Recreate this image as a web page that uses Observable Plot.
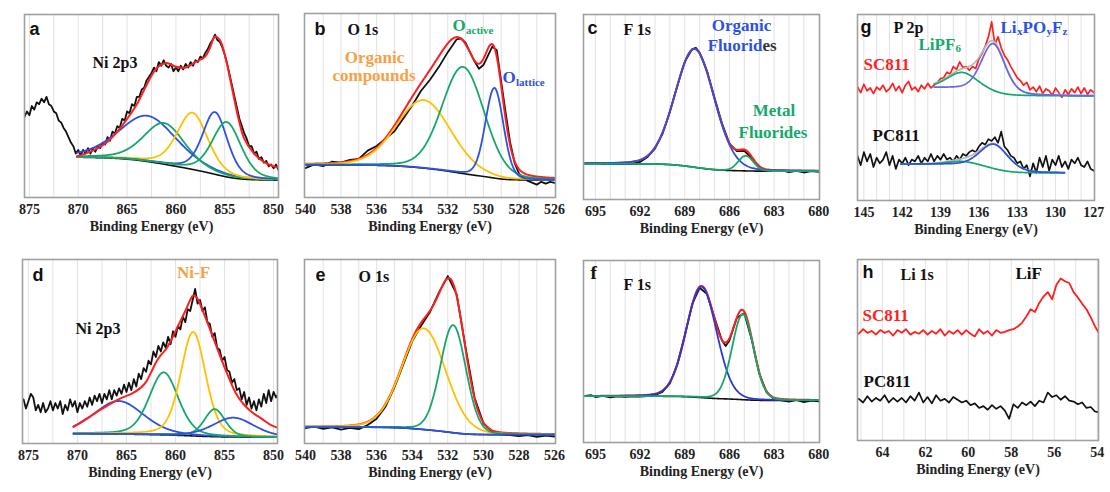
<!DOCTYPE html>
<html><head><meta charset="utf-8">
<script src="https://cdn.jsdelivr.net/npm/d3@7"></script>
<script src="https://cdn.jsdelivr.net/npm/@observablehq/plot@0.6"></script>
<style>
body{margin:0;background:#fff;}
#fig{position:relative;width:1110px;height:492px;overflow:hidden;background:#fff;}
#fig svg{position:absolute;overflow:visible;}
</style></head><body><div id="fig"></div>
<script>
// ================= DATA =================
// (a) Ni 2p3, top row: measured counts, sampled every 0.25 eV from 875.5 eV
const aStart = 875.5, aStep = 0.25;
const aCounts = [
  44, 47, 45, 50,  48, 52, 51, 54,  52, 55, 51, 50,  47, 46, 42, 41,
  38, 36, 33, 30,  28, 24, 26, 23,  26, 24, 27, 24,  27, 25, 28, 27,
  30, 29, 33, 31,  36, 35, 39, 38,  43, 42, 47, 46,  51, 50, 55, 55,
  59, 60, 64, 66,  68, 71, 69, 74,  72, 75, 72, 71,  73, 69, 71, 69,
  72, 70, 73, 71,  74, 72, 75, 74,  77, 76, 79, 81,  84, 86, 89, 86,
  85, 82, 78, 73,  67, 61, 55, 49,  43, 39, 35, 32,  28, 28, 24, 25,
  21, 22, 19, 20,  17, 18, 16, 18,  15
];
const aFit = [[870.1,22.5],[869,24.5],[868,27],[867,30.5],[866,36],[865,43],[864,51],[863,61.5],[862,70.5],[861,73.5],[860,71.5],[859,71],[858,74],[857,77],[856.5,82],[856,88],[855.5,86],[855,78],[854.5,66],[854,53],[853.5,41],[853,32],[852,24],[851,19.5],[850,17],[849.6,16.5]];
const aPeakCenter = [862.9, 861.2, 858.3, 856.0, 854.8];
const aPeakHeight = [25, 22.5, 31, 34, 30];
const aPeakFwhm   = [7, 5, 3.7, 3.0, 3.5];
const aBackground = [22, 9.5];           // high-BE end, low-BE end
const aTicks = [875, 870, 865, 860, 855, 850];

// (d) Ni 2p3, bottom row
const dStart = 875.5, dStep = 0.25;
const dCounts = [
  24, 19, 23, 27,  25, 18, 21, 17,  22, 17, 19, 23,  18, 22, 19, 23,
  16, 21, 18, 24,  20, 23, 17, 22,  19, 23, 20, 25,  21, 26, 23, 27,
  22, 27, 24, 29,  24, 29, 26, 30,  27, 32, 28, 33,  29, 35, 31, 38,
  35, 41, 39, 45,  43, 50, 47, 53,  50, 55, 52, 58,  54, 61, 58, 64,
  62, 69, 66, 73,  72, 78, 84, 76,  78, 72, 74, 66,  65, 58, 60, 52,
  51, 45, 47, 40,  39, 33, 35, 29,  30, 24, 28, 21,  25, 19, 23, 18,
  24, 20, 27, 22,  29, 23, 28, 25,  27
];
const dFit = [[870.4,9],[869.5,12],[868.5,15.5],[867.5,18.8],[866.5,22],[865.5,24.8],[864.5,27],[863.5,30.5],[863,33.5],[862.5,38.5],[862,44],[861.5,48],[861,51],[860.5,55.5],[860,61],[859.5,66.5],[859,72],[858.5,78],[858.2,80.4],[857.8,79],[857.3,73.2],[856.5,62.3],[855.6,49.6],[854.8,38.8],[853.9,27.9],[853.1,21.6],[852.2,17],[851.2,13.4],[850.2,9.8],[849.6,8.6]];
const dPeakCenter = [865.8, 861.2, 858.2, 856.0, 854.1];
const dPeakHeight = [18, 34, 56.5, 15, 10.5];
const dPeakFwhm   = [6, 3.5, 3.0, 2.5, 5];
const dBackground = [5.3, 3.4];

// (b) O 1s, top row
const bMeasured = [[540,16],[539.5,18],[539,17],[538.5,19.5],[538,19],[537.5,20.5],[537,21],[536.5,25.5],[536,28],[535.5,32],[535,36],[534.5,43],[534,50],[533.5,58],[533,64],[532.5,71],[532,79],[531.5,86],[531.25,86.5],[531,84],[530.75,79],[530.5,74],[530.25,70],[530,72],[529.75,77],[529.5,82],[529.25,80],[529,63],[528.75,46],[528.5,30],[528.25,19],[528,13],[527.5,9],[527,7],[526.75,8.5],[526.5,7.5],[526.25,8.5],[526,8]];
const bPeakCenter = [533.35, 531.14, 529.38];
const bPeakHeight = [37, 58, 49];
const bPeakFwhm   = [3.6, 2.8, 1.2];
const bBackground = [17.7, 9.5];
const oTicks = [540, 538, 536, 534, 532, 530, 528, 526];

// (e) O 1s, bottom row
const eMeasured = [[540,8.3],[539.5,9.2],[539,8],[538.5,8.8],[538,7.6],[537.5,8.5],[537,7.8],[536.5,10],[536,13.5],[535.5,20],[535,30.5],[534.5,43],[534,55.5],[533.5,64],[533,71.5],[532.5,82],[532,91],[531.5,81],[531,52],[530.5,25],[530,11],[529.5,6.5],[529,5],[528.5,4.5],[528,4],[527.5,4.6],[527,3.6],[526.5,4.3],[526,3.8]];
const ePeakCenter = [533.35, 531.7, 531.0];
const ePeakHeight = [55, 58.5, 0];
const ePeakFwhm   = [2.9, 1.7, 1.0];
const eBackground = [8.9, 4.8];

// (c) F 1s, top row
const cMeasured = [[695.8,19.5],[695,19.8],[694.5,19.2],[694,19.4],[693.5,19.1],[693,19.3],[692.5,19.4],[692,20.3],[691.5,23],[691,27.5],[690.5,35.3],[690,47.4],[689.5,61.3],[689,74.4],[688.5,81.3],[688.25,82],[688,79.3],[687.5,69.3],[687,55],[686.5,41.2],[686,30.2],[685.5,26.2],[685,26.3],[684.5,22.4],[684,17.3],[683.5,15.8],[683,15.5],[682.5,15.7],[682,14.8],[681.5,15.5],[681,14.6],[680.5,15.3],[680,14.9]];
const cPeakCenter = [688.33, 684.9];
const cPeakHeight = [64, 8.2];
const cPeakFwhm   = [3.1, 1.2];
const cBackground = [19.3, 15.3];
const fTicks = [695, 692, 689, 686, 683, 680];

// (f) F 1s, bottom row
const fMeasured = [[695.8,25.5],[695.3,26],[695,25],[694.5,25.6],[694,24.8],[693.5,25.3],[693,25.1],[692.5,25.4],[692,25.2],[691.5,25.5],[691,26],[690.5,27.8],[690,32.5],[689.5,43],[689,59],[688.5,76],[688,85],[687.5,81.5],[687,68.5],[686.5,56],[686.25,53],[686,56],[685.5,68.5],[685,71],[684.5,56.5],[684,38],[683.5,27.5],[683,23.8],[682.5,23.1],[682,22.5],[681.5,23.4],[681,22.2],[680.5,23],[680,22.6]];
const fPeakCenter = [687.88, 685.1];
const fPeakHeight = [61, 47];
const fPeakFwhm   = [2.4, 1.7];
const fBackground = [25.4, 23.1];

// (g) P 2p: SC811 (upper) and PC811 (lower), every 0.25 eV from 145.5 eV
const gStart = 145.5, gStep = 0.25;
const gSC811 = [
  61, 58, 62.5, 59,  60.5, 57.5, 61, 59.5,  62, 58.5, 60, 63,  59, 61.5, 58, 62,
  64, 59.5, 61, 58.5,  62, 60, 63, 60.5,  62, 63.5, 65.5, 66,  69, 68, 72, 70.5,
  74.5, 71.5, 72, 70,  72, 71, 76, 79,  83, 88, 96, 84,  88, 82, 78, 75.5,
  72, 69, 66, 64.5,  62, 63.5, 59.5, 61,  58.5, 61.5, 57.5, 60,  59, 56.5, 60.5, 58,
  55.5, 59.5, 57, 60,  58, 61, 57.5, 60.5,  57, 59.5, 58
];
const gPC811 = [
  24, 19, 26, 21,  25, 18, 23, 20,  22, 26, 19, 24,  17, 22, 20, 23,
  19, 22, 21, 24,  20, 23, 21, 25,  21, 24, 22, 25,  22, 23, 21, 24,
  22, 25, 24, 26,  27, 26, 29, 31,  30, 33, 32, 34,  31, 37, 29, 27,
  24, 23, 20, 21,  17, 19, 13, 20,  15, 23, 18, 24,  16, 22, 19, 24,
  18, 21, 17, 22,  20, 23, 19, 18,  21, 17, 16
];
const gSCPeakCenter = [137.3, 134.88];
const gSCPeakHeight = [9, 26.5];
const gSCPeakFwhm   = [2.8, 2.2];
const gSCBackground = [60.5, 56.2];
const gPCPeakCenter = [137.3, 134.8];
const gPCPeakHeight = [2, 13.4];
const gPCPeakFwhm   = [2.8, 2.6];
const gPCBackground = [19.5, 14.8];
const gTicks = [145, 142, 139, 136, 133, 130, 127];

// (h) Li 1s: SC811 and PC811, every 0.2 eV from 65.1 eV
const hStart = 65.1, hStep = 0.2;
const hSC811 = [
  59, 61.5, 59.5, 60.5, 58.5,  61, 59.5, 60.5, 58, 61,  59.5, 61.5, 58.5, 60, 59,
  61, 58.5, 60.5, 59, 61.5,  58, 60.5, 59, 61, 58.5,  61, 59, 57.5, 61.5, 59,
  60.5, 58, 61, 59.5, 60,  61, 61.5, 63, 65, 68.5,  72.5, 71, 76, 79.5, 82,
  78, 86, 89.5, 88, 87,  82, 79, 75.5, 72.5, 68,  63, 59
];
const hPC811 = [
  23, 21, 24.5, 21.5, 23.5,  22, 25, 21, 23.5, 21.5,  23.5, 21, 24.5, 22, 26.5,
  21, 24, 20.5, 25, 22,  23, 21, 24, 22.5, 21,  22, 19.5, 20.5, 18, 19,
  17, 19.5, 17.5, 19, 16.5,  12, 20, 18, 21, 19.5,  21.5, 19, 22, 21, 26.5,
  24, 25, 22.5, 24.5, 22,  21.5, 20, 21, 18, 18.5,  16, 15.5
];
const hTicks = [64, 62, 60, 58, 56, 54];

// ================= STYLE =================
const RED = "#ff1f1f", BLUE = "#2d52e2", GREEN = "#16a86b", YELLOW = "#ffc000", INK = "#111";
const ORANGE = "#f7a146", GBLUE = "#6767e6", GRAY = "#b8b8b8";
const SERIF = "'Liberation Serif','Times New Roman',serif";
const SANS = "'Liberation Sans',Arial,sans-serif";
const fig = document.getElementById("fig");

// ================= HELPERS =================
function series(start, step, vals) { return vals.map((v, i) => ({x: start - i * step, y: v})); }
function pv(x, c, h, w, eta) {
  const t = (x - c) / w;
  return h * ((1 - eta) * Math.exp(-4 * Math.LN2 * t * t) + eta / (1 + 4 * t * t));
}
// peak fit model with a Shirley background between the two ends of the fit range
function fitModel(hi, lo, bgEnds, centers, heights, widths, eta) {
  const n = Math.round((hi - lo) / 0.05);
  const xs = d3.range(n + 1).map(i => lo + i * (hi - lo) / n);
  const comps = centers.map((c, k) => xs.map(x => pv(x, c, heights[k], widths[k], eta)));
  const sum = xs.map((x, i) => d3.sum(comps, cc => cc[i]));
  const cum = [0];
  for (let i = 1; i <= n; i++) cum[i] = cum[i - 1] + (sum[i] + sum[i - 1]) / 2;
  const tot = cum[n] || 1;
  const bg = xs.map((x, i) => bgEnds[1] + (bgEnds[0] - bgEnds[1]) * cum[i] / tot);
  return {xs, comps, sum, bg};
}
function compLines(m, colors, sw = 1.8) {
  return m.comps.map((c, k) => Plot.line(m.xs, {x: d => d, y: (d, i) => m.bg[i] + c[i], stroke: colors[k], strokeWidth: sw, clip: true}));
}
function envLine(m, color, sw = 2) {
  return Plot.line(m.xs, {x: d => d, y: (d, i) => m.bg[i] + m.sum[i], stroke: color, strokeWidth: sw, clip: true});
}
function bgLine(m, color = INK, sw = 1.6) {
  return Plot.line(m.xs, {x: d => d, y: (d, i) => m.bg[i], stroke: color, strokeWidth: sw, clip: true});
}
function gridVals(lo, hi, step) {
  const out = []; for (let v = Math.ceil(lo / step) * step; v <= hi + 1e-9; v += step) out.push(+v.toFixed(2)); return out;
}

function panel(cfg) {
  const M = 2, MB = 46;
  const {left, top, w, h, domain, ticks, grid, marks, labels} = cfg;
  const labelMarks = labels.map(L => Plot.text([L.t], {
    text: d => d, frameAnchor: "top-left", dx: L.x - left, dy: L.y - top,
    textAnchor: L.anchor || "start", lineAnchor: "middle",
    fontSize: L.size || 17, fontWeight: "bold", fontFamily: L.family || SERIF, fill: L.fill || INK
  }));
  const svg = Plot.plot({
    width: w + 2 * M, height: h + M + MB,
    marginLeft: M, marginRight: M, marginTop: M, marginBottom: MB,
    x: {domain, axis: null}, y: {domain: [0, 100], axis: null},
    style: {fontFamily: SERIF, background: "transparent", overflow: "visible"},
    marks: [
      Plot.ruleX(grid, {x: d => d, stroke: "#e2e2e2", strokeWidth: 1}),
      ...marks,
      Plot.frame({stroke: "#a0a0a0", strokeWidth: 1.6}),
      Plot.text(ticks, {x: d => d, text: d => String(d), frameAnchor: "bottom", dy: 16, fontSize: 14, fontWeight: "bold", fill: "#222"}),
      Plot.text(["Binding Energy (eV)"], {text: d => d, frameAnchor: "bottom", dy: 33, fontSize: 14, fontWeight: "bold", fill: "#222"}),
      ...labelMarks
    ]
  });
  svg.style.left = (left - M) + "px";
  svg.style.top = (top - M) + "px";
  fig.appendChild(svg);
}

// ================= PANELS =================
// (a)
{
  const m = fitModel(870.1, 849.6, aBackground, aPeakCenter, aPeakHeight, aPeakFwhm, 0.35);
  panel({left: 24, top: 14, w: 254, h: 183, domain: [875.5, 849.5], ticks: aTicks, grid: gridVals(850, 875, 2.5),
    marks: [
      Plot.line(series(aStart, aStep, aCounts), {x: "x", y: "y", stroke: INK, strokeWidth: 1.8, clip: true}),
      bgLine(m),
      ...compLines(m, [BLUE, GREEN, YELLOW, BLUE, GREEN]),
      Plot.line(aFit, {x: d => d[0], y: d => d[1], curve: "catmull-rom", stroke: RED, strokeWidth: 2, clip: true})
    ],
    labels: [{t: "a", x: 29, y: 29, family: SANS, size: 18}, {t: "Ni 2p3", x: 92, y: 62, size: 16}]
  });
}
// (b)
{
  const m = fitModel(540.05, 525.95, bBackground, bPeakCenter, bPeakHeight, bPeakFwhm, 0.15);
  panel({left: 304, top: 13, w: 251, h: 184, domain: [540.05, 525.95], ticks: oTicks, grid: gridVals(527, 539, 1),
    marks: [
      Plot.line(bMeasured, {x: d => d[0], y: d => d[1], stroke: INK, strokeWidth: 1.8, clip: true}),
      envLine(m, RED), bgLine(m),
      ...compLines(m, [YELLOW, GREEN, BLUE])
    ],
    labels: [
      {t: "b", x: 314, y: 29, family: SANS, size: 18}, {t: "O 1s", x: 347, y: 29, size: 16},
      {t: "Organic", x: 374, y: 57, fill: ORANGE, anchor: "middle"}, {t: "compounds", x: 373.5, y: 75, fill: ORANGE, anchor: "middle"},
      {t: "O", x: 452, y: 25, fill: GREEN}, {t: "active", x: 465.5, y: 30, size: 11, fill: GREEN},
      {t: "O", x: 502, y: 77, fill: BLUE}, {t: "lattice", x: 515.5, y: 82, size: 11, fill: BLUE}
    ]
  });
}
// (c)
{
  const m = fitModel(695.8, 679.95, cBackground, cPeakCenter, cPeakHeight, cPeakFwhm, 0.1);
  panel({left: 583, top: 14, w: 236, h: 185, domain: [695.8, 679.95], ticks: fTicks, grid: gridVals(681, 695, 1),
    marks: [
      Plot.line(cMeasured, {x: d => d[0], y: d => d[1], stroke: INK, strokeWidth: 1.8, clip: true}),
      envLine(m, RED), bgLine(m),
      ...compLines(m, [BLUE, GREEN])
    ],
    labels: [
      {t: "c", x: 587, y: 28, family: SANS, size: 18}, {t: "F 1s", x: 623, y: 29, size: 16},
      {t: "Organic", x: 741, y: 25, fill: BLUE, anchor: "middle"},
      {t: "Fluorid", x: 762, y: 45, fill: BLUE, anchor: "end"}, {t: "es", x: 762, y: 45, fill: "#333"},
      {t: "Metal", x: 773.5, y: 110, fill: GREEN, anchor: "middle"}, {t: "Fluorides", x: 772.5, y: 132, fill: GREEN, anchor: "middle"}
    ]
  });
}
// (g)
{
  const sc = fitModel(139.5, 127.0, gSCBackground, gSCPeakCenter, gSCPeakHeight, gSCPeakFwhm, 0.3);
  const pc = fitModel(142.1, 129.3, gPCBackground, gPCPeakCenter, gPCPeakHeight, gPCPeakFwhm, 0.3);
  panel({left: 857, top: 14, w: 237, h: 186, domain: [145.5, 126.95], ticks: gTicks, grid: gridVals(128, 145, 1),
    marks: [
      Plot.line(series(gStart, gStep, gSC811), {x: "x", y: "y", stroke: RED, strokeWidth: 1.7, clip: true}),
      Plot.line(series(gStart, gStep, gPC811), {x: "x", y: "y", stroke: INK, strokeWidth: 1.7, clip: true}),
      envLine(sc, GRAY, 1.7), envLine(pc, GRAY, 1.7),
      ...compLines(sc, [GREEN, GBLUE], 1.7), ...compLines(pc, [GREEN, BLUE], 1.7)
    ],
    labels: [
      {t: "g", x: 860, y: 27, family: SANS, size: 18}, {t: "P 2p", x: 893, y: 27, size: 16},
      {t: "LiPF", x: 918, y: 44, fill: GREEN}, {t: "6", x: 955, y: 48, size: 11, fill: GREEN},
      {t: "Li", x: 1000, y: 27, fill: BLUE}, {t: "x", x: 1016.5, y: 31, size: 11, fill: BLUE},
      {t: "PO", x: 1022, y: 27, fill: BLUE}, {t: "y", x: 1046, y: 31, size: 11, fill: BLUE},
      {t: "F", x: 1051.5, y: 27, fill: BLUE}, {t: "z", x: 1062, y: 31, size: 11, fill: BLUE},
      {t: "SC811", x: 863, y: 64, fill: RED}, {t: "PC811", x: 872, y: 135}
    ]
  });
}
// (d)
{
  const m = fitModel(870.4, 849.6, dBackground, dPeakCenter, dPeakHeight, dPeakFwhm, 0.3);
  panel({left: 22, top: 259, w: 255, h: 184, domain: [875.6, 849.6], ticks: aTicks, grid: gridVals(850, 875, 2.5),
    marks: [
      Plot.line(series(dStart, dStep, dCounts), {x: "x", y: "y", stroke: INK, strokeWidth: 1.8, clip: true}),
      bgLine(m),
      ...compLines(m, [BLUE, GREEN, YELLOW, GREEN, BLUE]),
      Plot.line(dFit, {x: d => d[0], y: d => d[1], curve: "catmull-rom", stroke: RED, strokeWidth: 2, clip: true})
    ],
    labels: [{t: "d", x: 32, y: 275, family: SANS, size: 18}, {t: "Ni-F", x: 193, y: 272, fill: ORANGE, anchor: "middle"}, {t: "Ni 2p3", x: 75, y: 328, size: 16}]
  });
}
// (e)
{
  const m = fitModel(540.05, 525.95, eBackground, ePeakCenter, ePeakHeight, ePeakFwhm, 0.1);
  panel({left: 304, top: 259, w: 251, h: 184, domain: [540.05, 525.95], ticks: oTicks, grid: gridVals(527, 539, 1),
    marks: [
      Plot.line(eMeasured, {x: d => d[0], y: d => d[1], stroke: INK, strokeWidth: 1.8, clip: true}),
      envLine(m, RED), bgLine(m),
      ...compLines(m, [YELLOW, GREEN, BLUE])
    ],
    labels: [{t: "e", x: 315, y: 275, family: SANS, size: 18}, {t: "O 1s", x: 358, y: 276, size: 16}]
  });
}
// (f)
{
  const m = fitModel(695.8, 679.95, fBackground, fPeakCenter, fPeakHeight, fPeakFwhm, 0.1);
  panel({left: 583, top: 260, w: 236, h: 182, domain: [695.8, 679.95], ticks: fTicks, grid: gridVals(681, 695, 1),
    marks: [
      Plot.line(fMeasured, {x: d => d[0], y: d => d[1], stroke: INK, strokeWidth: 1.8, clip: true}),
      envLine(m, RED), bgLine(m),
      ...compLines(m, ["#2b38d6", GREEN])
    ],
    labels: [{t: "f", x: 590, y: 272, family: SERIF, size: 19}, {t: "F 1s", x: 623, y: 284, size: 16}]
  });
}
// (h)
{
  panel({left: 857, top: 259, w: 241, h: 181, domain: [65.16, 53.94], ticks: hTicks, grid: gridVals(54, 65, 1),
    marks: [
      Plot.line(series(hStart, hStep, hSC811), {x: "x", y: "y", stroke: RED, strokeWidth: 1.8, clip: true}),
      Plot.line(series(hStart, hStep, hPC811), {x: "x", y: "y", stroke: INK, strokeWidth: 1.7, clip: true})
    ],
    labels: [
      {t: "h", x: 862, y: 272, family: SANS, size: 18}, {t: "Li 1s", x: 900, y: 274, size: 16},
      {t: "LiF", x: 1015, y: 273}, {t: "SC811", x: 862, y: 315, fill: RED}, {t: "PC811", x: 863, y: 381}
    ]
  });
}
</script></body></html>
